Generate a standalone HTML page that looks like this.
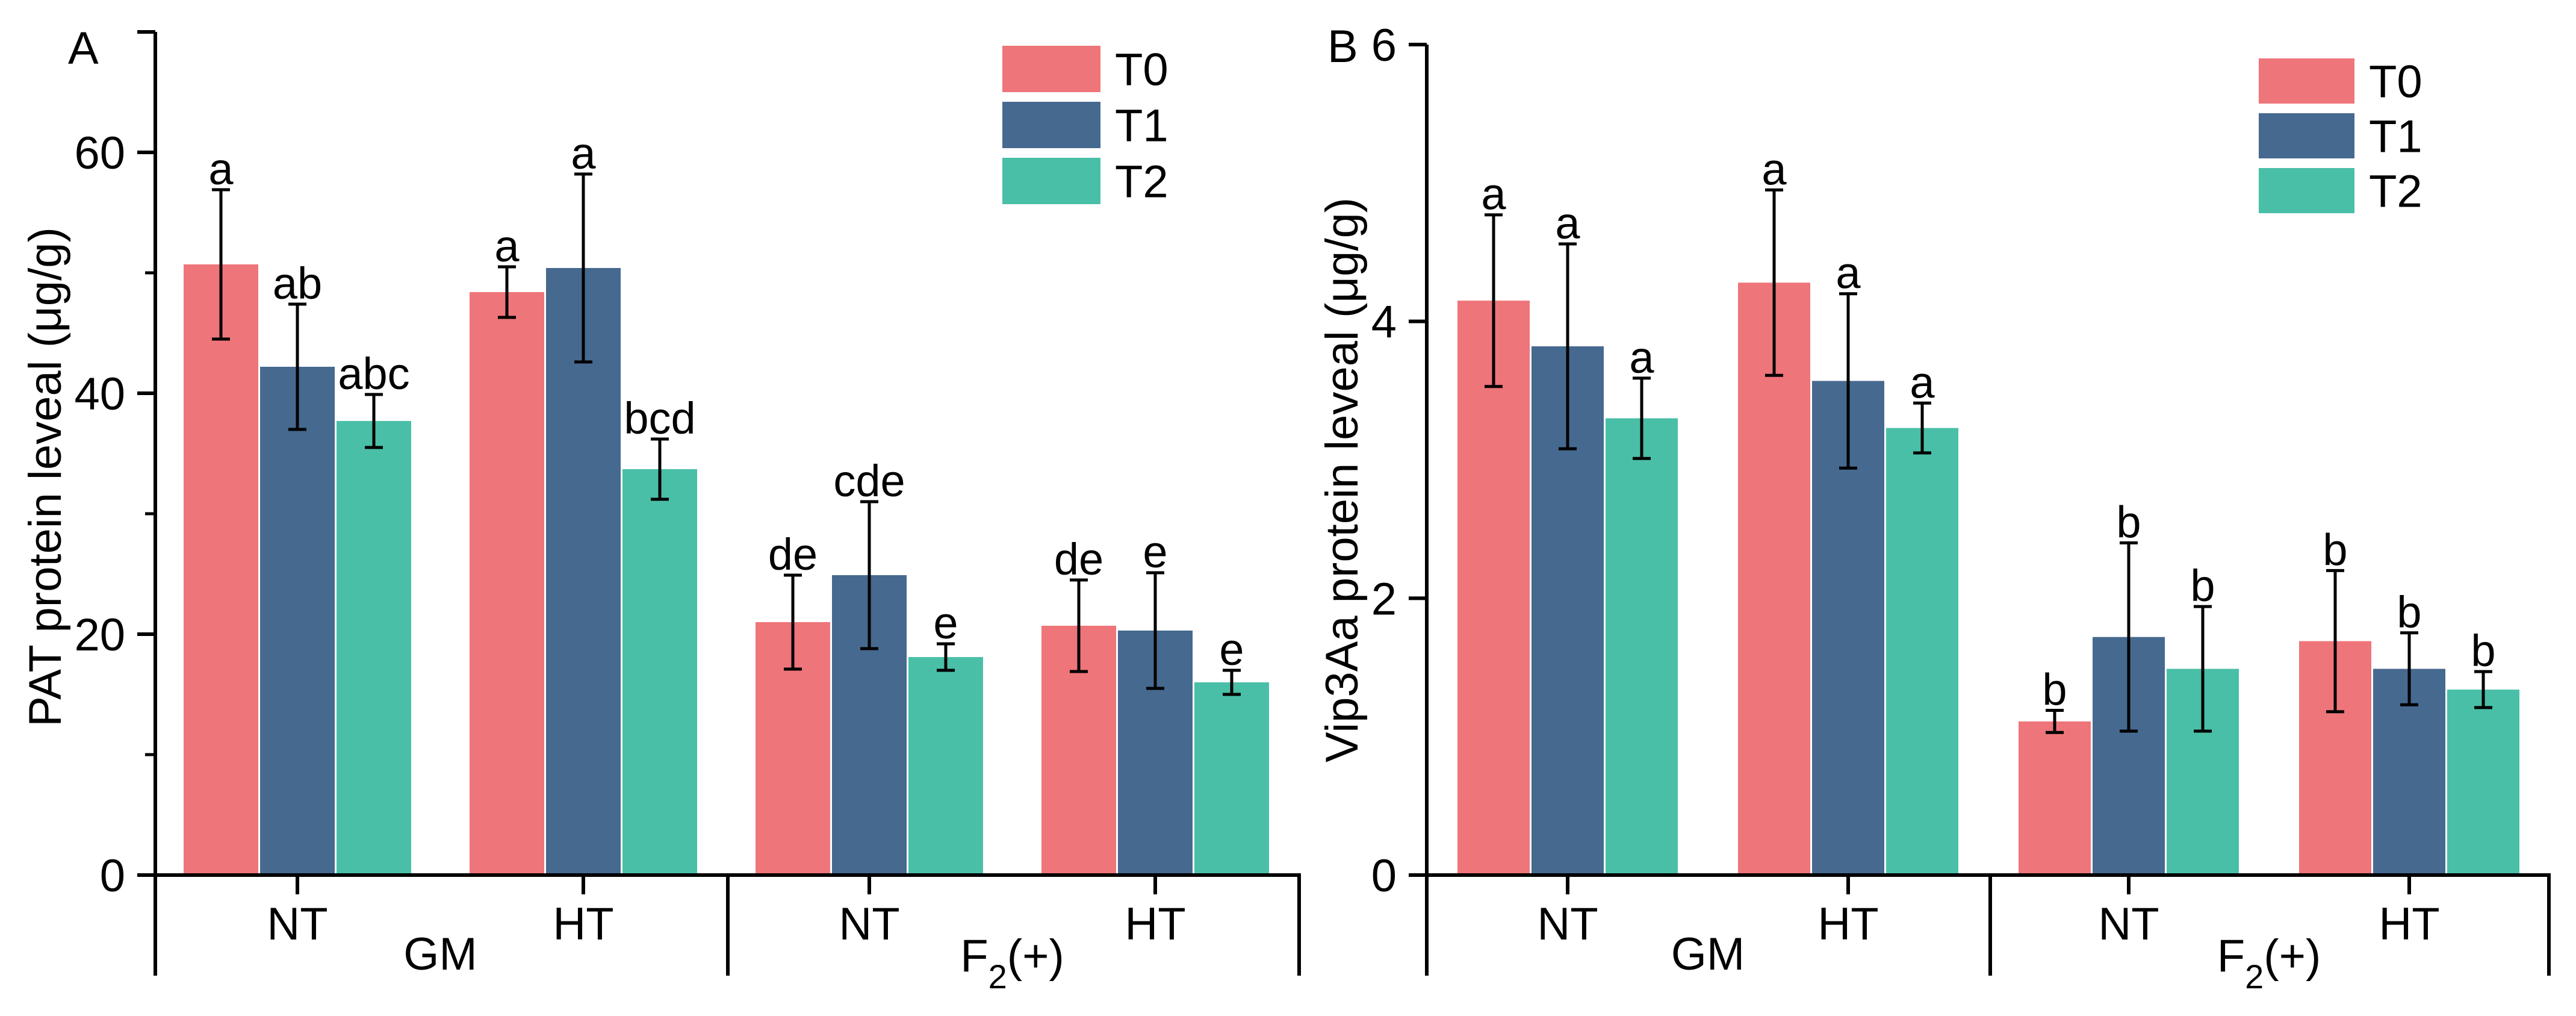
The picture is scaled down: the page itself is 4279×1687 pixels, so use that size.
<!DOCTYPE html>
<html><head><meta charset="utf-8"><style>
html,body{margin:0;padding:0;background:#fff;}
svg{display:block;font-family:"Liberation Sans",Arial,sans-serif;}
</style></head><body>
<svg id="fig" width="4279" height="1687" viewBox="0 0 4279 1687" xmlns="http://www.w3.org/2000/svg"></svg>
<script>
// Panel A data (PAT)
const categories = ["GM-NT","GM-HT","F2-NT","F2-HT"];
const seriesNames = ["T0","T1","T2"];
const patT0 = [50.7, 48.4, 21.0, 20.7];
const patT1 = [42.2, 50.4, 24.9, 20.3];
const patT2 = [37.7, 33.7, 18.1, 16.0];
const patErrT0 = [6.2, 2.1, 3.9, 3.8];
const patErrT1 = [5.2, 7.8, 6.1, 4.8];
const patErrT2 = [2.2, 2.5, 1.1, 1.0];
const patLetT0 = ["a","a","de","de"];
const patLetT1 = ["ab","a","cde","e"];
const patLetT2 = ["abc","bcd","e","e"];
const patTicks = [0,20,40,60];
const patMinor = [10,30,50,70];
// Panel B data (Vip3Aa)
const vipT0 = [4.15, 4.28, 1.11, 1.69];
const vipT1 = [3.82, 3.57, 1.72, 1.49];
const vipT2 = [3.30, 3.23, 1.49, 1.34];
const vipErrT0 = [0.62, 0.67, 0.08, 0.51];
const vipErrT1 = [0.74, 0.63, 0.68, 0.26];
const vipErrT2 = [0.29, 0.18, 0.45, 0.13];
const vipLetT0 = ["a","a","b","b"];
const vipLetT1 = ["a","a","b","b"];
const vipLetT2 = ["a","a","b","b"];
const vipTicks = [0,2,4,6];
const subLabels = ["NT","HT","NT","HT"];

const NS="http://www.w3.org/2000/svg";
const svg=document.getElementById('fig');
const colors=["#EE7579","#46698F","#4ABFA8"];
function mk(tag,attrs,parent){const e=document.createElementNS(NS,tag);for(const k in attrs)e.setAttribute(k,attrs[k]);(parent||svg).appendChild(e);return e;}

function panel(o){
  const g=mk('g',{});
  
  
  const y=v=>o.zeroY-(v-0)*(o.zeroY-o.topY)/o.ymax;
  const x=i=>o.x0+i*o.gstep;
  const vals=[o.t0,o.t1,o.t2], errs=[o.e0,o.e1,o.e2], lets=[o.l0,o.l1,o.l2];
  // bars
  for(let s=0;s<3;s++){
    for(let i=0;i<categories.length;i++){
      const cx=x(i)+(s-1)*o.bstep;
      const r=mk('rect',{x:cx-o.bw/2,y:y(vals[s][i]),width:o.bw,height:o.zeroY-y(vals[s][i]),fill:colors[s]},g);
      
      
    }
  }
  // error bars and letters
  for(let s=0;s<3;s++){
    for(let i=0;i<categories.length;i++){
      const cx=x(i)+(s-1)*o.bstep;
      const hi=y(vals[s][i]+errs[s][i]), lo=y(vals[s][i]-errs[s][i]);
      const eb=mk('path',{d:`M${cx},${hi}V${lo}M${cx-15},${hi}H${cx+15}M${cx-15},${lo}H${cx+15}`,stroke:'#000','stroke-width':5,fill:'none'},g);
      
      
      const t=mk('text',{x:cx,y:hi-9,'font-size':74,'text-anchor':'middle',fill:'#000'},g);
      t.textContent=lets[s][i];
      
      
    }
  }
  // axes
  const ax=mk('path',{d:`M${o.axX},${o.topY}V${o.botY}M${o.axX-30},${o.zeroY}H${o.rightX}V${o.botY}M${o.sepX},${o.zeroY}V${o.botY}M${o.axX-30},${o.topY}H${o.axX}`,stroke:'#000','stroke-width':6,fill:'none'},g);
  
  
  o.ticks.forEach(v=>{
    const tk=mk('line',{x1:o.axX-30,x2:o.axX,y1:y(v),y2:y(v),stroke:'#000','stroke-width':6},g);
    
    
    const tl=mk('text',{x:o.axX-50,y:y(v)+27,'font-size':76,'text-anchor':'end'},g);
    tl.textContent=v;
    
    
  });
  (o.minor||[]).forEach(v=>{
    const tk=mk('line',{x1:o.axX-17,x2:o.axX,y1:y(v),y2:y(v),stroke:'#000','stroke-width':5},g);
    
    
  });
  for(let i=0;i<categories.length;i++){
    const tk=mk('line',{x1:x(i),x2:x(i),y1:o.zeroY,y2:o.zeroY+32,stroke:'#000','stroke-width':6},g);
    
    
    const tl=mk('text',{x:x(i),y:o.zeroY+107,'font-size':76,'text-anchor':'middle'},g);
    tl.textContent=subLabels[i];
    
    
  }
  const gm=mk('text',{x:(x(0)+x(1))/2,y:o.zeroY+157,'font-size':76,'text-anchor':'middle'},g);
  gm.textContent='GM';
  
  
  const f2=mk('text',{x:(x(2)+x(3))/2,y:o.zeroY+160,'font-size':76,'text-anchor':'middle'},g);
  f2.innerHTML='F<tspan font-size="56" dy="28">2</tspan><tspan dy="-28">(+)</tspan>';
  
  
  // y title
  const yt=mk('text',{x:0,y:0,'font-size':76,'text-anchor':'middle',transform:`translate(${o.ytX},${o.ytY}) rotate(-90)`},g);
  yt.textContent=o.ytitle;
  
  
  const pl=mk('text',{x:o.plX,y:o.plY,'font-size':76},g);
  pl.textContent=o.letter;
  
  
  // legend
  for(let s=0;s<3;s++){
    const sy=o.legY+s*o.legStep;
    const sw=mk('rect',{x:o.legX,y:sy,width:o.legW,height:o.legH,fill:colors[s]},g);
    
    
    const lt=mk('text',{x:o.legX+o.legW+24,y:sy+o.legH/2+27,'font-size':76},g);
    lt.textContent=seriesNames[s];
    
    
  }
}

panel({name:'panel-a-pat',x0:494,gstep:475,bstep:127,bw:124,zeroY:1453,topY:53,ymax:70,
  axX:258,rightX:2158,sepX:1209,botY:1620,
  t0:patT0,t1:patT1,t2:patT2,e0:patErrT0,e1:patErrT1,e2:patErrT2,l0:patLetT0,l1:patLetT1,l2:patLetT2,
  ticks:patTicks,minor:patMinor,ytitle:'PAT protein leveal (μg/g)',ytX:101,ytY:792,
  letter:'A',plX:113,plY:106,legX:1665,legY:76,legStep:93,legW:163,legH:77});
panel({name:'panel-b-vip3aa',x0:2604,gstep:466,bstep:123,bw:120,zeroY:1453,topY:74,ymax:6,
  axX:2370,rightX:4234,sepX:3306,botY:1620,
  t0:vipT0,t1:vipT1,t2:vipT2,e0:vipErrT0,e1:vipErrT1,e2:vipErrT2,l0:vipLetT0,l1:vipLetT1,l2:vipLetT2,
  ticks:vipTicks,minor:[],ytitle:'Vip3Aa protein leveal (μg/g)',ytX:2255,ytY:797,
  letter:'B',plX:2205,plY:103,legX:3752,legY:97,legStep:91,legW:159,legH:75});
</script>
</body></html>
